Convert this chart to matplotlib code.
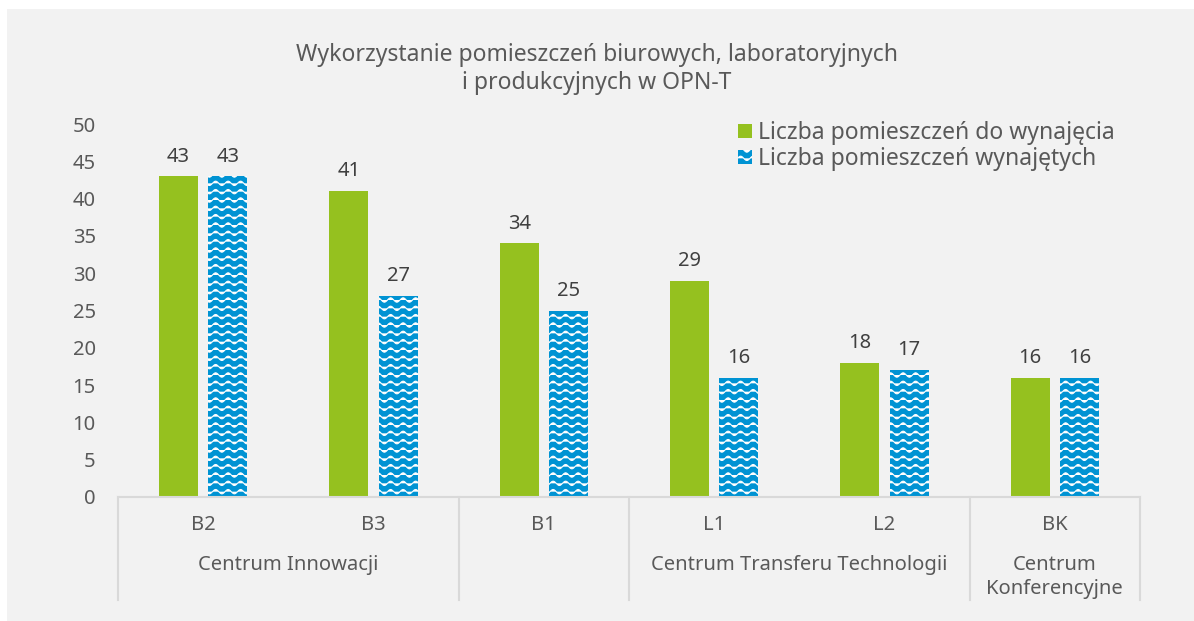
import warnings
import numpy as np
import matplotlib
matplotlib.use('Agg')
from matplotlib import pyplot as plt
from matplotlib import hatch as mhatch
from matplotlib.path import Path
from matplotlib.patches import Rectangle

warnings.filterwarnings('ignore')

# data
buildings = ['B2', 'B3', 'B1', 'L1', 'L2', 'BK']
groups = ['Centrum Innowacji', '', 'Centrum Transferu Technologii', 'Centrum\nKonferencyjne']
group_sizes = [2, 1, 2, 1]
do_wynajecia = [43, 41, 34, 29, 18, 16]
wynajete = [43, 27, 25, 16, 17, 16]
series_names = ['Liczba pomieszczeń do wynajęcia', 'Liczba pomieszczeń wynajętych']

green = '#95C11F'
blue = '#0093D3'
text_col = '#595959'
line_col = '#D9D9D9'


class WaveHatch(mhatch.HatchPatternBase):
    # wavy lines, used with '~' in the hatch string
    def __init__(self, hatch, density):
        self.num_lines = int(hatch.count('~') * density)
        self.num_pts = 129
        self.num_vertices = (self.num_lines + 2) * self.num_pts if self.num_lines else 0

    def set_vertices_and_codes(self, vertices, codes):
        x = np.linspace(0, 1, self.num_pts)
        wave = 0.022 * np.sin(2 * np.pi * 8 * x)
        step = 1.0 / self.num_lines
        for k, i in enumerate(range(-1, self.num_lines + 1)):
            s = slice(k * self.num_pts, (k + 1) * self.num_pts)
            vertices[s, 0] = x
            vertices[s, 1] = i * step + wave
            codes[s] = Path.LINETO
            codes[k * self.num_pts] = Path.MOVETO


mhatch._hatch_types.append(WaveHatch)

plt.rcParams['font.family'] = ['Noto Sans', 'DejaVu Sans']
plt.rcParams['hatch.linewidth'] = 0.75

fig = plt.figure(figsize=(11.94, 6.21), dpi=100)
fig.patch.set_facecolor('white')
fig.patches.append(Rectangle((7 / 1194, 0), 1, 1 - 9 / 621, transform=fig.transFigure,
                             facecolor='#F2F2F2', edgecolor='none', zorder=-10))

ax = fig.add_axes([0.0988, 0.1997, 0.856, 0.6006])
ax.set_facecolor('none')

x = np.arange(len(buildings))
w = 0.23
b1 = ax.bar(x - 0.145, do_wynajecia, w, color=green, label=series_names[0])
b2 = ax.bar(x + 0.145, wynajete, w, color=blue, edgecolor='white', linewidth=0,
            hatch='~~', label=series_names[1])
ax.bar_label(b1, padding=7, fontsize=14.5, color='#404040')
ax.bar_label(b2, padding=7, fontsize=14.5, color='#404040')

ax.set_ylim(0, 50)
ax.set_xlim(-0.5, len(buildings) - 0.5)
ax.set_yticks(range(0, 51, 5))
ax.tick_params(axis='y', length=0, pad=16, labelsize=14.5, labelcolor=text_col)
ax.set_xticks(x)
ax.set_xticklabels(buildings)
ax.tick_params(axis='x', length=0, pad=13, labelsize=14.5, labelcolor=text_col)

for s in ['top', 'right', 'left']:
    ax.spines[s].set_visible(False)
ax.spines['bottom'].set_color(line_col)
ax.spines['bottom'].set_linewidth(1.5)

# group labels and separators
trans = ax.get_xaxis_transform()
bounds = np.concatenate([[0], np.cumsum(group_sizes)]) - 0.5
for i, name in enumerate(groups):
    mid = (bounds[i] + bounds[i + 1]) / 2
    ax.text(mid, -0.155, name, transform=trans, ha='center', va='top', fontsize=14.5,
            color=text_col, linespacing=1.25)
for b in bounds:
    ax.plot([b, b], [0, -0.276], transform=trans, color=line_col, lw=1.5, clip_on=False)

ax.legend(loc='upper left', bbox_to_anchor=(0.607, 1.008), frameon=False, fontsize=16.5,
          handlelength=0.6, handleheight=0.6, handletextpad=0.25, labelspacing=0.08,
          borderpad=0, borderaxespad=0, labelcolor=text_col)

fig.suptitle('Wykorzystanie pomieszczeń biurowych, laboratoryjnych\ni produkcyjnych w OPN-T',
             x=0.5, y=0.93, fontsize=16.5, color=text_col, linespacing=1.2)

fig.savefig('out.png', dpi=100, facecolor=fig.get_facecolor())
